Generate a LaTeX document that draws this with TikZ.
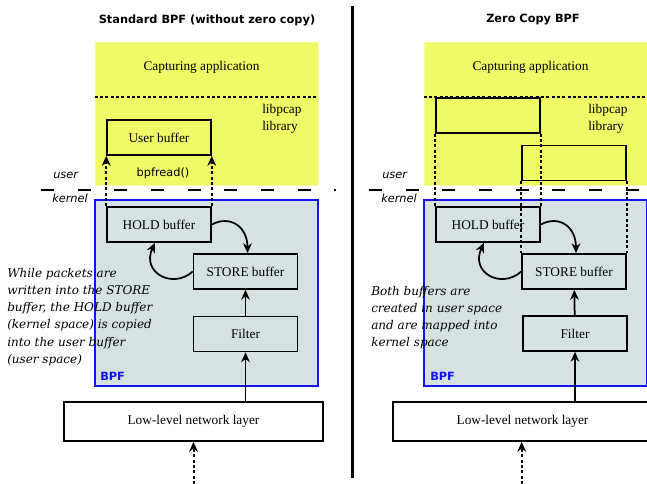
\documentclass[tikz,border=0pt]{standalone}
\usepackage{fontspec}
\setmainfont{Liberation Serif}
\setsansfont{DejaVu Sans}
\newfontfamily\notefont{DejaVu Serif}
\usetikzlibrary{arrows.meta}
\definecolor{userbg}{RGB}{238,250,102}
\definecolor{kernbg}{RGB}{214,226,226}
\definecolor{bpfblue}{RGB}{20,20,240}

\begin{document}
\begin{tikzpicture}[x=0.75pt,y=-0.75pt,
	>={Stealth[length=7.5pt,width=6.5pt]},
	buf/.style={draw,line width=1.1pt,minimum width=78pt,minimum height=26.25pt,inner sep=0pt},
	userarea/.style={fill=userbg,draw=userbg!60!white,inner sep=0pt,minimum width=167.25pt,minimum height=107.25pt},
	bpfarea/.style={fill=kernbg,draw=bpfblue,line width=1.1pt,inner sep=0pt,minimum width=167.25pt,minimum height=139.5pt},
	lowbox/.style={draw,line width=1.1pt,fill=white,minimum width=194.25pt,minimum height=29.25pt,inner sep=0pt},
	dots/.style={line width=1.5pt,dash pattern=on 2.2pt off 1.8pt},
	sepline/.style={line width=1.5pt,dash pattern=on 9.75pt off 17.75pt},
	flow/.style={line width=1.3pt,->},
	tag/.style={font=\sffamily\fontsize{8.5}{10}\selectfont,inner sep=0pt},
	head/.style={font=\sffamily\bfseries\fontsize{8.5}{10}\selectfont,inner sep=0pt},
	lib/.style={align=left,anchor=west,inner sep=0pt,font=\fontsize{10}{12.75}\selectfont},
	note/.style={font=\notefont\itshape\fontsize{9}{12.9}\selectfont,align=left,anchor=north west,inner sep=0pt}]
	\useasboundingbox (0,0) rectangle (647,483);
	
	% standard BPF
	\node[head](titleL)at(207,20) {Standard BPF (without zero copy)};
	\node[userarea](appL)at(206.5,113.5) {};
	\node[bpfarea](bpfL)at(206.5,293) {};
	\node(capL)at(201.5,67) {Capturing application};
	\node[lib](libL)at(262,118.5) {libpcap\\library};
	\draw[dots]([yshift=-41.25pt]appL.north west) -- ([yshift=-41.25pt]appL.north east);
	\node[buf](ubufL)at(159,137.5) {User buffer};
	\node[tag](readL)at(163,173) {bpfread()};
	\node[buf](holdL)at(159,224.5) {HOLD buffer};
	\node[buf](storeL)at(245.5,271.5) {STORE buffer};
	\node[buf](filterL)at(245.5,334) {Filter};
	\node[lowbox](lowL)at(193.5,421.5) {Low-level network layer};
	\node[tag,anchor=west,font=\sffamily\bfseries\fontsize{8.5}{10}\selectfont,text=bpfblue](nameL)at(100,376) {BPF};
	\node[tag,anchor=west,font=\sffamily\itshape\fontsize{8.5}{10}\selectfont](userL)at(53,175) {user};
	\node[tag,anchor=west,font=\sffamily\itshape\fontsize{8.5}{10}\selectfont](kernL)at(52,198.5) {kernel};
	\node[note](noteL)at(7,268) {While packets are\\written into the STORE\\buffer, the HOLD buffer\\(kernel space) is copied\\into the user buffer\\(user space)};
	\coordinate(sepL0)at(41,190);
	\coordinate(sepL1)at(336,190);
	\coordinate(inL)at(193.5,484);
	
	\draw[sepline](sepL0) -- (sepL1);
	\draw[dots,->](holdL.north west) -- (ubufL.south west);
	\draw[dots,->](holdL.north east) -- (ubufL.south east);
	\draw[flow](holdL.east) .. controls +(19,-10) and +(0,-26) .. ([xshift=1.5pt]storeL.north);
	\draw[flow](storeL.west) .. controls +(-20,18) and +(-14,30) .. ([xshift=-3pt]holdL.south);
	\draw[flow](filterL) -- (storeL);
	\draw[flow](lowL.north -| filterL) -- (filterL);
	\draw[dots,->](inL) -- (inL |- lowL.south);
	
	% separator
	\coordinate(divtop)at(352.5,6);
	\coordinate(divbot)at(352.5,478);
	\draw[line width=2.25pt](divtop) -- (divbot);
	
	% zero copy BPF
	\node[head](titleR)at(533,20) {Zero Copy BPF};
	\node[userarea](appR)at(535.5,113.5) {};
	\node[bpfarea](bpfR)at(535.5,293) {};
	\node(capR)at(530.5,67) {Capturing application};
	\node[lib](libR)at(588,118.5) {libpcap\\library};
	\draw[dots]([yshift=-41.25pt]appR.north west) -- ([yshift=-41.25pt]appR.north east);
	\node[buf](mapaR)at(488,115.5) {};
	\node[buf](mapbR)at(574,163) {};
	\node[buf](holdR)at(488,224.5) {HOLD buffer};
	\node[buf](storeR)at(574,271.5) {STORE buffer};
	\node[buf](filterR)at(575,333.5) {Filter};
	\node[lowbox](lowR)at(522.5,421.5) {Low-level network layer};
	\node[tag,anchor=west,font=\sffamily\bfseries\fontsize{8.5}{10}\selectfont,text=bpfblue](nameR)at(430,376) {BPF};
	\node[tag,anchor=west,font=\sffamily\itshape\fontsize{8.5}{10}\selectfont](userR)at(382,175) {user};
	\node[tag,anchor=west,font=\sffamily\itshape\fontsize{8.5}{10}\selectfont](kernR)at(381,198.5) {kernel};
	\node[note](noteR)at(371,286) {Both buffers are\\created in user space\\and are mapped into\\kernel space};
	\coordinate(sepR0)at(369,190);
	\coordinate(sepR1)at(650,190);
	\coordinate(inR)at(521.7,484);
	
	\draw[sepline](sepR0) -- (sepR1);
	\draw[dots](mapaR.south west) -- (holdR.north west);
	\draw[dots](mapaR.south east) -- (holdR.north east);
	\draw[dots](mapbR.south west) -- (storeR.north west);
	\draw[dots](mapbR.south east) -- (storeR.north east);
	\draw[flow](holdR.east) .. controls +(19,-10) and +(0,-26) .. ([xshift=1.5pt]storeR.north);
	\draw[flow](storeR.west) .. controls +(-20,18) and +(-14,30) .. ([xshift=-3pt]holdR.south);
	\draw[flow](filterR) -- (storeR);
	\draw[flow](lowR.north -| filterR) -- (filterR);
	\draw[dots,->](inR) -- (inR |- lowR.south);
\end{tikzpicture}
\end{document}
